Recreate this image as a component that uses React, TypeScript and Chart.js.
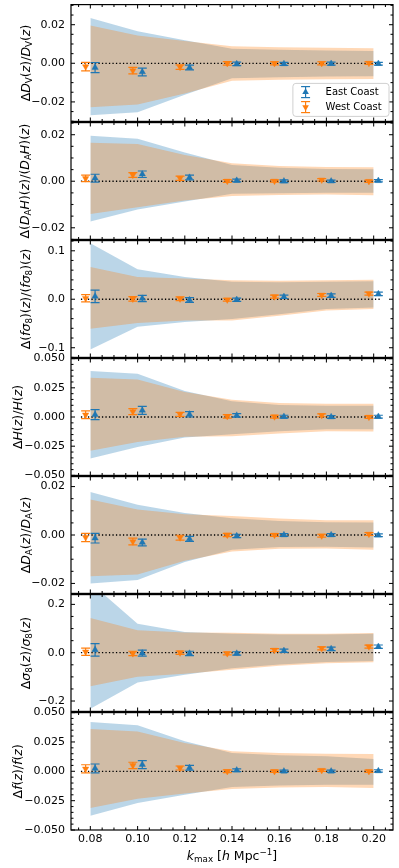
import React, { useEffect, useRef } from "react";
import { Chart, registerables } from "chart.js";

Chart.register(...registerables);
Chart.defaults.font.family = "'DejaVu Sans', sans-serif";

// ---------------- data ----------------
const K = [0.08, 0.1, 0.12, 0.14, 0.16, 0.18, 0.2];
const K_EAST = [0.082, 0.102, 0.122, 0.142, 0.162, 0.182, 0.202];
const K_WEST = [0.078, 0.098, 0.118, 0.138, 0.158, 0.178, 0.198];
const ZERO_X = [0.076, 0.203];
const X_TICKS = [0.08, 0.1, 0.12, 0.14, 0.16, 0.18, 0.2];
const X_TICK_LABELS = ["0.08", "0.10", "0.12", "0.14", "0.16", "0.18", "0.20"];

// Panel 1: D_V
const DV_EAST_UP = [0.0234, 0.0166, 0.0119, 0.0075, 0.007, 0.0066, 0.0064];
const DV_EAST_LO = [-0.0269, -0.0253, -0.0163, -0.0078, -0.0072, -0.0069, -0.0067];
const DV_WEST_UP = [0.0196, 0.0144, 0.0115, 0.0088, 0.0083, 0.008, 0.0078];
const DV_WEST_LO = [-0.0228, -0.0214, -0.0157, -0.009, -0.0085, -0.0083, -0.0081];
const DV_EAST = [-0.0022, -0.0045, -0.0022, -0.0003, -0.0003, -0.0002, -0.0002];
const DV_EAST_ERR = [0.0026, 0.002, 0.0012, 0.0009, 0.0008, 0.0008, 0.0007];
const DV_WEST = [-0.0017, -0.0038, -0.002, 0.0, 0.0, 0.0, 0.0001];
const DV_WEST_ERR = [0.0022, 0.0017, 0.0012, 0.0009, 0.0008, 0.0008, 0.0007];
const DV_TICKS = [-0.02, 0, 0.02];
const DV_TICK_LABELS = ["\u22120.02", "0.00", "0.02"];

// Panel 2: D_A H
const DAH_EAST_UP = [0.0195, 0.0183, 0.0123, 0.007, 0.0058, 0.0053, 0.0052];
const DAH_EAST_LO = [-0.0173, -0.0122, -0.0087, -0.0054, -0.0052, -0.005, -0.005];
const DAH_WEST_UP = [0.0165, 0.016, 0.0113, 0.0077, 0.0066, 0.0061, 0.006];
const DAH_WEST_LO = [-0.0141, -0.0112, -0.0083, -0.0063, -0.0059, -0.0057, -0.006];
const DAH_EAST = [0.0013, 0.003, 0.0016, 0.0003, 0.0, 0.0, 0.0002];
const DAH_EAST_ERR = [0.0017, 0.0014, 0.001, 0.0006, 0.0006, 0.0005, 0.0005];
const DAH_WEST = [0.0012, 0.0027, 0.0013, 0.0001, 0.0001, 0.0006, 0.0];
const DAH_WEST_ERR = [0.0014, 0.001, 0.0009, 0.0006, 0.0005, 0.0005, 0.0005];
const DAH_TICKS = [-0.02, 0, 0.02];
const DAH_TICK_LABELS = ["\u22120.02", "0.00", "0.02"];

// Panel 3: f sigma8
const FS8_EAST_UP = [0.1155, 0.0618, 0.046, 0.036, 0.035, 0.036, 0.037];
const FS8_EAST_LO = [-0.1035, -0.057, -0.047, -0.041, -0.031, -0.02, -0.017];
const FS8_WEST_UP = [0.0665, 0.046, 0.043, 0.0394, 0.038, 0.039, 0.04];
const FS8_WEST_LO = [-0.061, -0.049, -0.044, -0.0437, -0.034, -0.023, -0.02];
const FS8_EAST = [0.006, 0.0015, -0.0015, -0.001, 0.005, 0.0075, 0.011];
const FS8_EAST_ERR = [0.013, 0.0065, 0.005, 0.0035, 0.0035, 0.0035, 0.0035];
const FS8_WEST = [0.002, 0.0007, 0.001, -0.001, 0.0055, 0.0088, 0.0115];
const FS8_WEST_ERR = [0.0075, 0.0045, 0.004, 0.003, 0.003, 0.003, 0.003];
const FS8_TICKS = [-0.1, 0, 0.1];
const FS8_TICK_LABELS = ["\u22120.1", "0.0", "0.1"];

// Panel 4: H
const H_EAST_UP = [0.0393, 0.037, 0.0222, 0.0134, 0.0102, 0.0097, 0.0097];
const H_EAST_LO = [-0.0355, -0.0256, -0.0176, -0.0148, -0.0122, -0.0105, -0.0105];
const H_WEST_UP = [0.0336, 0.032, 0.0213, 0.0148, 0.012, 0.0114, 0.0114];
const H_WEST_LO = [-0.029, -0.0213, -0.017, -0.0165, -0.0142, -0.0122, -0.0124];
const H_EAST = [0.002, 0.0057, 0.0023, 0.0014, 0.0003, 0.0, 0.0003];
const H_EAST_ERR = [0.0043, 0.0034, 0.0023, 0.0015, 0.0012, 0.0012, 0.0012];
const H_WEST = [0.0019, 0.0046, 0.0023, 0.0006, 0.0003, 0.0014, 0.0];
const H_WEST_ERR = [0.0033, 0.0026, 0.0017, 0.0015, 0.0012, 0.0012, 0.0012];
const H_TICKS = [-0.05, -0.025, 0, 0.025, 0.05];
const H_TICK_LABELS = ["\u22120.050", "\u22120.025", "0.000", "0.025", "0.050"];

// Panel 5: D_A
const DA_EAST_UP = [0.0177, 0.0125, 0.0091, 0.0069, 0.0058, 0.0053, 0.0052];
const DA_EAST_LO = [-0.02, -0.0186, -0.0111, -0.0061, -0.005, -0.0048, -0.0052];
const DA_WEST_UP = [0.0147, 0.0105, 0.0086, 0.0078, 0.0068, 0.0061, 0.0061];
const DA_WEST_LO = [-0.017, -0.0163, -0.0106, -0.0068, -0.0057, -0.0056, -0.0061];
const DA_EAST = [-0.0013, -0.0031, -0.0016, -0.0004, 0.0, 0.0, -0.0001];
const DA_EAST_ERR = [0.002, 0.0014, 0.001, 0.0007, 0.0006, 0.0006, 0.0006];
const DA_WEST = [-0.001, -0.0027, -0.0011, 0.0, 0.0, -0.0003, 0.0004];
const DA_WEST_ERR = [0.0017, 0.0014, 0.001, 0.0007, 0.0006, 0.0006, 0.0006];
const DA_TICKS = [-0.02, 0, 0.02];
const DA_TICK_LABELS = ["\u22120.02", "0.00", "0.02"];

// Panel 6: sigma8
const S8_EAST_UP = [0.29, 0.12, 0.086, 0.079, 0.075, 0.075, 0.078];
const S8_EAST_LO = [-0.232, -0.123, -0.091, -0.064, -0.049, -0.038, -0.034];
const S8_WEST_UP = [0.1434, 0.093, 0.0836, 0.083, 0.079, 0.079, 0.082];
const S8_WEST_LO = [-0.139, -0.1, -0.087, -0.071, -0.0545, -0.0436, -0.0395];
const S8_EAST = [0.012, -0.002, -0.003, -0.003, 0.008, 0.016, 0.025];
const S8_EAST_ERR = [0.026, 0.0125, 0.009, 0.007, 0.007, 0.007, 0.007];
const S8_WEST = [0.004, -0.003, 0.0, -0.003, 0.011, 0.018, 0.025];
const S8_WEST_ERR = [0.015, 0.009, 0.007, 0.006, 0.006, 0.006, 0.006];
const S8_TICKS = [-0.2, 0, 0.2];
const S8_TICK_LABELS = ["\u22120.2", "0.0", "0.2"];

// Panel 7: f
const F_EAST_UP = [0.042, 0.0393, 0.0256, 0.0156, 0.0136, 0.0128, 0.0105];
const F_EAST_LO = [-0.0378, -0.027, -0.0199, -0.0134, -0.012, -0.0114, -0.0114];
const F_WEST_UP = [0.036, 0.034, 0.0241, 0.0171, 0.0156, 0.015, 0.0148];
const F_WEST_LO = [-0.0313, -0.0233, -0.019, -0.0151, -0.0137, -0.0134, -0.0142];
const F_EAST = [0.0024, 0.0057, 0.003, 0.0009, 0.0, 0.0, 0.0003];
const F_EAST_ERR = [0.0038, 0.0034, 0.0021, 0.0012, 0.001, 0.001, 0.001];
const F_WEST = [0.0021, 0.005, 0.0028, 0.0, 0.0, 0.0009, 0.0];
const F_WEST_ERR = [0.0035, 0.0027, 0.0017, 0.0012, 0.001, 0.001, 0.001];
const F_TICKS = [-0.05, -0.025, 0, 0.025, 0.05];
const F_TICK_LABELS = ["\u22120.050", "\u22120.025", "0.000", "0.025", "0.050"];

const LEGEND_LABELS = ["East Coast", "West Coast"];

// ---------------- style ----------------
const BLUE = "#1f77b4";
const ORANGE = "#ff7f0e";
const BLUE_BAND = "rgba(31,119,180,0.3)";
const ORANGE_BAND = "rgba(255,127,14,0.3)";
const FONT = "'DejaVu Sans', sans-serif";
const W = 399;
const PANEL_TOP0 = 4;
const PANEL_H = 118;
const PAD = 12;
const X_MIN = 0.0718;
const X_MAX = 0.2082;
const TITLE_SIZE = 12.5;

type Seg = { t: string; it?: boolean; sub?: boolean; sup?: boolean };
const s = (t: string, o: Partial<Seg> = {}): Seg => ({ t, ...o });

const T_DV = [s("\u0394"), s("D", { it: true }), s("V", { sub: true }), s("("), s("z", { it: true }), s(")/"), s("D", { it: true }), s("V", { sub: true }), s("("), s("z", { it: true }), s(")")];
const T_DAH = [s("\u0394("), s("D", { it: true }), s("A", { sub: true }), s("H", { it: true }), s(")("), s("z", { it: true }), s(")/("), s("D", { it: true }), s("A", { sub: true }), s("H", { it: true }), s(")("), s("z", { it: true }), s(")")];
const T_FS8 = [s("\u0394("), s("f\u03c3", { it: true }), s("8", { sub: true }), s(")("), s("z", { it: true }), s(")/("), s("f\u03c3", { it: true }), s("8", { sub: true }), s(")("), s("z", { it: true }), s(")")];
const T_H = [s("\u0394"), s("H", { it: true }), s("("), s("z", { it: true }), s(")/"), s("H", { it: true }), s("("), s("z", { it: true }), s(")")];
const T_DA = [s("\u0394"), s("D", { it: true }), s("A", { sub: true }), s("("), s("z", { it: true }), s(")/"), s("D", { it: true }), s("A", { sub: true }), s("("), s("z", { it: true }), s(")")];
const T_S8 = [s("\u0394"), s("\u03c3", { it: true }), s("8", { sub: true }), s("("), s("z", { it: true }), s(")/"), s("\u03c3", { it: true }), s("8", { sub: true }), s("("), s("z", { it: true }), s(")")];
const T_F = [s("\u0394"), s("f", { it: true }), s("("), s("z", { it: true }), s(")/"), s("f", { it: true }), s("("), s("z", { it: true }), s(")")];
const T_X = [s("k", { it: true }), s("max", { sub: true }), s(" ["), s("h", { it: true }), s(" Mpc"), s("\u22121", { sup: true }), s("]")];

interface Panel {
  title: Seg[]; titleX: number; min: number; max: number; ticks: number[]; tickLabels: string[]; minor: number;
  eUp: number[]; eLo: number[]; wUp: number[]; wLo: number[]; e: number[]; eErr: number[]; w: number[]; wErr: number[];
}

const PANELS: Panel[] = [
  { title: T_DV, titleX: 25, min: -0.0301, max: 0.0304, ticks: DV_TICKS, tickLabels: DV_TICK_LABELS, minor: 0.005, eUp: DV_EAST_UP, eLo: DV_EAST_LO, wUp: DV_WEST_UP, wLo: DV_WEST_LO, e: DV_EAST, eErr: DV_EAST_ERR, w: DV_WEST, wErr: DV_WEST_ERR },
  { title: T_DAH, titleX: 24, min: -0.025, max: 0.0252, ticks: DAH_TICKS, tickLabels: DAH_TICK_LABELS, minor: 0.005, eUp: DAH_EAST_UP, eLo: DAH_EAST_LO, wUp: DAH_WEST_UP, wLo: DAH_WEST_LO, e: DAH_EAST, eErr: DAH_EAST_ERR, w: DAH_WEST, wErr: DAH_WEST_ERR },
  { title: T_FS8, titleX: 25, min: -0.12, max: 0.121, ticks: FS8_TICKS, tickLabels: FS8_TICK_LABELS, minor: 0.02, eUp: FS8_EAST_UP, eLo: FS8_EAST_LO, wUp: FS8_WEST_UP, wLo: FS8_WEST_LO, e: FS8_EAST, eErr: FS8_EAST_ERR, w: FS8_WEST, wErr: FS8_WEST_ERR },
  { title: T_H, titleX: 17, min: -0.05, max: 0.05, ticks: H_TICKS, tickLabels: H_TICK_LABELS, minor: 0.005, eUp: H_EAST_UP, eLo: H_EAST_LO, wUp: H_WEST_UP, wLo: H_WEST_LO, e: H_EAST, eErr: H_EAST_ERR, w: H_WEST, wErr: H_WEST_ERR },
  { title: T_DA, titleX: 25, min: -0.0241, max: 0.0241, ticks: DA_TICKS, tickLabels: DA_TICK_LABELS, minor: 0.005, eUp: DA_EAST_UP, eLo: DA_EAST_LO, wUp: DA_WEST_UP, wLo: DA_WEST_LO, e: DA_EAST, eErr: DA_EAST_ERR, w: DA_WEST, wErr: DA_WEST_ERR },
  { title: T_S8, titleX: 25, min: -0.243, max: 0.2406, ticks: S8_TICKS, tickLabels: S8_TICK_LABELS, minor: 0.05, eUp: S8_EAST_UP, eLo: S8_EAST_LO, wUp: S8_WEST_UP, wLo: S8_WEST_LO, e: S8_EAST, eErr: S8_EAST_ERR, w: S8_WEST, wErr: S8_WEST_ERR },
  { title: T_F, titleX: 17, min: -0.05, max: 0.05, ticks: F_TICKS, tickLabels: F_TICK_LABELS, minor: 0.005, eUp: F_EAST_UP, eLo: F_EAST_LO, wUp: F_WEST_UP, wLo: F_WEST_LO, e: F_EAST, eErr: F_EAST_ERR, w: F_WEST, wErr: F_WEST_ERR },
];

// ---------------- drawing helpers ----------------
function drawRich(ctx: CanvasRenderingContext2D, segs: Seg[], size: number, cx: number, cy: number, rotate: boolean) {
  const fontFor = (g: Seg) => `${g.it ? "italic " : ""}${g.sub || g.sup ? size * 0.7 : size}px ${FONT}`;
  const widths = segs.map((g) => { ctx.font = fontFor(g); return ctx.measureText(g.t).width; });
  const total = widths.reduce((a, b) => a + b, 0);
  ctx.save();
  ctx.translate(cx, cy);
  if (rotate) ctx.rotate(-Math.PI / 2);
  ctx.fillStyle = "#000";
  ctx.textAlign = "left";
  ctx.textBaseline = "alphabetic";
  let x = -total / 2;
  const base = size * 0.36;
  segs.forEach((g, i) => {
    ctx.font = fontFor(g);
    const dy = g.sub ? size * 0.22 : g.sup ? -size * 0.4 : 0;
    ctx.fillText(g.t, x, base + dy);
    x += widths[i];
  });
  ctx.restore();
}

function tri(ctx: CanvasRenderingContext2D, x: number, y: number, r: number, down: boolean, color: string) {
  let rad = down ? Math.PI : 0;
  ctx.beginPath();
  for (let i = 0; i < 3; i++) {
    const px = x + Math.sin(rad) * r, py = y - Math.cos(rad) * r;
    if (i === 0) ctx.moveTo(px, py); else ctx.lineTo(px, py);
    rad += (2 * Math.PI) / 3;
  }
  ctx.closePath();
  ctx.fillStyle = color;
  ctx.fill();
}

const errorBarPlugin = {
  id: "errorBars",
  beforeDatasetDraw(chart: any, args: any) {
    const ds = chart.data.datasets[args.index];
    if (!ds.errors) return;
    const { ctx, chartArea } = chart;
    const xs = chart.scales.x, ys = chart.scales.y;
    ctx.save();
    ctx.beginPath();
    ctx.rect(chartArea.left, chartArea.top, chartArea.right - chartArea.left, chartArea.bottom - chartArea.top);
    ctx.clip();
    ctx.strokeStyle = ds.borderColor;
    ctx.lineWidth = 1.2;
    ds.data.forEach((p: any, j: number) => {
      const err = ds.errors[j];
      const px = xs.getPixelForValue(p.x);
      const y1 = ys.getPixelForValue(p.y + err);
      const y2 = ys.getPixelForValue(p.y - err);
      ctx.beginPath();
      ctx.moveTo(px, y1); ctx.lineTo(px, y2);
      ctx.moveTo(px - 4.5, y1); ctx.lineTo(px + 4.5, y1);
      ctx.moveTo(px - 4.5, y2); ctx.lineTo(px + 4.5, y2);
      ctx.stroke();
    });
    ctx.restore();
  },
};

const framePlugin = {
  id: "frameTicks",
  afterDraw(chart: any) {
    const o = chart.options.plugins.frameTicks;
    const { ctx, chartArea } = chart;
    const { left, right, top, bottom } = chartArea;
    const xs = chart.scales.x, ys = chart.scales.y;
    ctx.save();
    ctx.strokeStyle = "#111";
    ctx.lineWidth = 1.1;
    const line = (x1: number, y1: number, x2: number, y2: number) => { ctx.beginPath(); ctx.moveTo(x1, y1); ctx.lineTo(x2, y2); ctx.stroke(); };
    // x ticks
    for (let v = 0.075; v <= X_MAX + 1e-9; v += 0.005) {
      const px = xs.getPixelForValue(v);
      if (px < left || px > right) continue;
      const major = X_TICKS.some((t) => Math.abs(t - v) < 1e-6);
      const len = major ? 4 : 2.5;
      line(px, bottom, px, bottom - len);
      line(px, top, px, top + len);
    }
    // y ticks
    const start = Math.ceil((o.min - 1e-9) / o.minor) * o.minor;
    for (let v = start; v <= o.max + 1e-9; v += o.minor) {
      const py = ys.getPixelForValue(v);
      if (py < top - 0.5 || py > bottom + 0.5) continue;
      const major = o.ticks.some((t: number) => Math.abs(t - v) < 1e-6);
      const len = major ? 4 : 2.5;
      line(left, py, left + len, py);
      line(right, py, right - len, py);
    }
    ctx.strokeStyle = "#000";
    ctx.lineWidth = 1.2;
    ctx.strokeRect(left, top, right - left, bottom - top);
    // y title
    drawRich(ctx, o.title, TITLE_SIZE, o.titleX, (top + bottom) / 2, true);
    if (o.xTitle) drawRich(ctx, T_X, TITLE_SIZE, (left + right) / 2, o.xTitleY, false);
    // legend
    if (o.legend) {
      ctx.font = `10px ${FONT}`;
      const tw = Math.max(...LEGEND_LABELS.map((l) => ctx.measureText(l).width));
      const bw = tw + 40, bh = 33;
      const bx = right - 4 - bw, by = bottom - 5 - bh;
      ctx.beginPath();
      const r = 3;
      ctx.moveTo(bx + r, by);
      ctx.arcTo(bx + bw, by, bx + bw, by + bh, r);
      ctx.arcTo(bx + bw, by + bh, bx, by + bh, r);
      ctx.arcTo(bx, by + bh, bx, by, r);
      ctx.arcTo(bx, by, bx + bw, by, r);
      ctx.closePath();
      ctx.fillStyle = "rgba(255,255,255,0.8)";
      ctx.fill();
      ctx.strokeStyle = "#d0d0d0";
      ctx.lineWidth = 1;
      ctx.stroke();
      const items = [
        { label: LEGEND_LABELS[0], color: BLUE, down: false, y: by + 8.7 },
        { label: LEGEND_LABELS[1], color: ORANGE, down: true, y: by + 23.7 },
      ];
      items.forEach((it) => {
        const mx = bx + 12.7;
        ctx.strokeStyle = it.color;
        ctx.lineWidth = 1.2;
        line(mx, it.y - 5.5, mx, it.y + 5.5);
        line(mx - 4.5, it.y - 5.5, mx + 4.5, it.y - 5.5);
        line(mx - 4.5, it.y + 5.5, mx + 4.5, it.y + 5.5);
        tri(ctx, mx, it.y, 3.8, it.down, it.color);
        ctx.fillStyle = "#000";
        ctx.font = `10px ${FONT}`;
        ctx.textAlign = "left";
        ctx.textBaseline = "middle";
        ctx.fillText(it.label, bx + 32.7, it.y + 0.5);
      });
    }
    ctx.restore();
  },
};

function pts(xs: number[], ys: number[]) {
  return xs.map((x, i) => ({ x, y: ys[i] }));
}

function makeChart(canvas: HTMLCanvasElement, p: Panel, idx: number, canvasTop: number) {
  const isLast = idx === PANELS.length - 1;
  const band = (data: number[], color: string, fill: any, order: number) => ({
    type: "line", data: pts(K, data), borderWidth: 0, borderColor: "rgba(0,0,0,0)", pointRadius: 0,
    backgroundColor: color, fill, tension: 0, order,
  });
  const datasets: any[] = [
    band(p.eUp, BLUE_BAND, "+1", 10),
    band(p.eLo, BLUE_BAND, false, 10),
    band(p.wUp, ORANGE_BAND, "+1", 9),
    band(p.wLo, ORANGE_BAND, false, 9),
    {
      type: "line", data: pts(ZERO_X, [0, 0]), borderColor: "#000", borderWidth: 1.3, borderDash: [1.3, 2.2],
      pointRadius: 0, fill: false, order: 8,
    },
    {
      type: "line", data: pts(K_WEST, p.w), errors: p.wErr, showLine: false, pointStyle: "triangle", pointRotation: 180,
      pointRadius: 3.7, pointBorderWidth: 0.4, borderColor: ORANGE, backgroundColor: ORANGE, pointBackgroundColor: ORANGE, pointBorderColor: ORANGE, order: 2,
    },
    {
      type: "line", data: pts(K_EAST, p.e), errors: p.eErr, showLine: false, pointStyle: "triangle",
      pointRadius: 3.7, pointBorderWidth: 0.4, borderColor: BLUE, backgroundColor: BLUE, pointBackgroundColor: BLUE, pointBorderColor: BLUE, order: 1,
    },
  ];
  return new Chart(canvas, {
    type: "line",
    data: { datasets },
    plugins: [errorBarPlugin, framePlugin],
    options: {
      animation: false,
      responsive: false,
      devicePixelRatio: 1,
      events: [],
      layout: { padding: { left: 0, right: 6, top: PAD, bottom: isLast ? 0 : PAD } },
      plugins: {
        legend: { display: false },
        tooltip: { enabled: false },
        frameTicks: {
          title: p.title, titleX: p.titleX, min: p.min, max: p.max, minor: p.minor, ticks: p.ticks,
          legend: idx === 0, xTitle: isLast, xTitleY: 855 - canvasTop,
        },
      } as any,
      scales: {
        x: {
          type: "linear", min: X_MIN, max: X_MAX, display: isLast,
          grid: { display: false, drawTicks: false }, border: { display: false },
          ticks: {
            padding: 3, color: "#000", font: { size: 11, family: FONT }, autoSkip: false, maxRotation: 0,
            callback: (_v: any, i: number) => X_TICK_LABELS[i],
          },
          afterBuildTicks: (sc: any) => { sc.ticks = X_TICKS.map((v) => ({ value: v })); },
          afterFit: (sc: any) => { sc.height = isLast ? 38 : 0; },
        },
        y: {
          type: "linear", min: p.min, max: p.max,
          grid: { display: false, drawTicks: false }, border: { display: false },
          ticks: {
            padding: 6, color: "#000", font: { size: 11, family: FONT }, autoSkip: false,
            callback: (_v: any, i: number) => p.tickLabels[i],
          },
          afterBuildTicks: (sc: any) => { sc.ticks = p.ticks.map((v) => ({ value: v })); },
          afterFit: (sc: any) => { sc.width = 71; },
        },
      } as any,
    },
  } as any);
}

export default function App() {
  const refs = useRef<(HTMLCanvasElement | null)[]>([]);
  const geo = PANELS.map((_, i) => {
    const top = PANEL_TOP0 + i * PANEL_H - PAD;
    const h = i === PANELS.length - 1 ? 868 - top : PANEL_H + 2 * PAD;
    return { top, h };
  });
  useEffect(() => {
    const charts = PANELS.map((p, i) => makeChart(refs.current[i] as HTMLCanvasElement, p, i, geo[i].top));
    return () => charts.forEach((c) => c.destroy());
  }, []);
  return (
    <div style={{ position: "absolute", left: 0, top: 0, width: W, height: 868, background: "#fff", overflow: "hidden" }}>
      {PANELS.map((_, i) => (
        <canvas
          key={i}
          ref={(el) => { refs.current[i] = el; }}
          width={W}
          height={geo[i].h}
          style={{ position: "absolute", left: 0, top: geo[i].top, width: W, height: geo[i].h }}
        />
      ))}
    </div>
  );
}
